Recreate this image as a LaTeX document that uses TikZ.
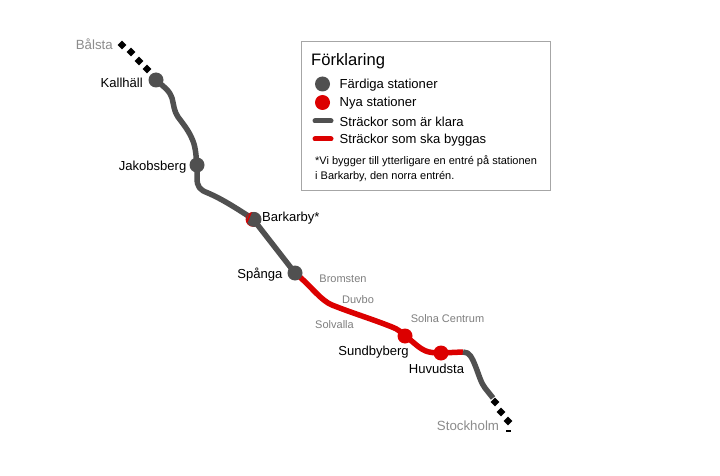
\documentclass[tikz,border=0pt]{standalone}
\usepackage{fontspec}
\setmainfont{Liberation Sans}
\usetikzlibrary{shapes.geometric}
\definecolor{linegray}{HTML}{505050}
\definecolor{linered}{HTML}{DC0000}
\definecolor{boxgray}{HTML}{A6A6A6}
\definecolor{labgray}{HTML}{7F7F7F}
\definecolor{fargray}{HTML}{8C8C8C}
\newcommand{\fs}[1]{\fontsize{#1}{#1}\selectfont}
\tikzset{
  x=1pt,y=-1pt,
  track/.style={line width=5.5pt,line join=round},
  doneline/.style={track,draw=linegray},
  newline/.style={track,draw=linered},
  donest/.style={circle,fill=linegray,minimum size=15pt,inner sep=0pt},
  newst/.style={circle,fill=linered,minimum size=15pt,inner sep=0pt},
  dot/.style={diamond,fill=black,minimum size=9pt,inner sep=0pt},
  lab/.style={inner sep=0pt,text=black,font=\fs{13.05}},
  farlab/.style={inner sep=0pt,text=fargray,font=\fs{13.3}},
  sublab/.style={inner sep=0pt,text=labgray,font=\fs{11}},
  legtxt/.style={inner sep=0pt,anchor=west,text=black,font=\fs{13.05}},
  legline/.style={line width=5pt,line cap=round},
}
\begin{document}
\begin{tikzpicture}
\useasboundingbox (0,0) rectangle (720,476);
\fill[white] (0,0) rectangle (720,476);
% legend box
\node[draw=boxgray,line width=0.9pt,minimum width=249pt,minimum height=149pt,inner sep=0pt] (legend) at (425.5,115.5) {};
% stations
\coordinate (sKal) at (156,80);
\coordinate (sJak) at (197,165);
\coordinate (sBar) at (253,219);
\coordinate (sSpa) at (295,273);
\coordinate (sSun) at (405,336);
\coordinate (sHuv) at (441,353);
\coordinate (tEnd) at (493,398);
\coordinate (rEnd) at (463,352);
% track
\draw[doneline] (sKal) .. controls (164,87) and (170,91) .. (172,98)
  .. controls (174,106) and (174,111) .. (178,117)
  .. controls (184,125) and (189,131) .. (193,141)
  .. controls (196,149) and (196,157) .. (sJak)
  -- (197,178) .. controls (197,187) and (200,190) .. (208,193)
  .. controls (222,199) and (236,208) .. (sBar) -- (sSpa);
\draw[newline] (sSpa) -- (301,278) .. controls (312,288) and (322,301) .. (332,305)
  .. controls (352,313) and (372,319) .. (392,327)
  .. controls (398,329) and (402,333) .. (sSun)
  .. controls (414,342) and (420,350) .. (429,352) .. controls (434,353) and (438,353) .. (sHuv) -- (rEnd);
\draw[doneline] (rEnd) .. controls (470,352) and (472,358) .. (475,365)
  .. controls (479,375) and (481,383) .. (485,388) -- (tEnd);
% station dots
\fill[linered] (253,219.4) circle (7.4pt);
\node[donest] (nKal) at (sKal) {};
\node[donest] (nJak) at (sJak) {};
\node[donest] (nBar) at (254,219.4) {};
\node[donest] (nSpa) at (sSpa) {};
\node[newst] (nSun) at (sSun) {};
\node[newst] (nHuv) at (sHuv) {};
\fill[linered] (246.3,221.5) -- (249.5,213.8) -- (252,212.2) -- (247.5,222.5) -- cycle;
% diamonds
\node[dot] (d1) at (122,45) {};
\node[dot] (d2) at (131,52) {};
\node[dot] (d3) at (139,61) {};
\node[dot] (d4) at (147,69) {};
\node[dot] (d5) at (495,402) {};
\node[dot] (d6) at (501,412) {};
\node[dot] (d7) at (508,421) {};
\node[fill=black,minimum width=5pt,minimum height=1.8pt,inner sep=0pt] (d8) at (508,431) {};
% labels
\node[farlab,anchor=east] (tBal) at (113,44) {Bålsta};
\node[lab,anchor=east] (tKal) at (143,83) {Kallhäll};
\node[lab,anchor=east] (tJak) at (186.5,167) {Jakobsberg};
\node[lab,anchor=west] (tBar) at (262,218) {Barkarby*};
\node[lab,anchor=east] (tSpa) at (282.5,274.5) {Spånga};
\node[sublab] (tBro) at (343,279) {Bromsten};
\node[sublab] (tDuv) at (358,300) {Duvbo};
\node[sublab] (tSol) at (334.5,325) {Solvalla};
\node[sublab] (tSC) at (447.5,318.5) {Solna Centrum};
\node[lab] (tSun) at (373.5,352) {Sundbyberg};
\node[lab] (tHuv) at (436.5,369) {Huvudsta};
\node[farlab] (tSto) at (468,426) {Stockholm};
% legend
\node[inner sep=0pt,anchor=west,font=\fs{16.6}] (lT) at (311,61) {Förklaring};
\node[donest] (l1) at (322.5,84) {};
\node[newst] (l2) at (322.5,102.5) {};
\coordinate (l3a) at (315,121);
\coordinate (l3b) at (331,121);
\coordinate (l4a) at (315,139);
\coordinate (l4b) at (331,139);
\draw[legline,linegray] (l3a) -- (l3b);
\draw[legline,linered] (l4a) -- (l4b);
\node[legtxt] (t1) at (339.5,85.5) {Färdiga stationer};
\node[legtxt] (t2) at (339.5,103.5) {Nya stationer};
\node[legtxt] (t3) at (339.5,122) {Sträckor som är klara};
\node[legtxt] (t4) at (339.5,140.5) {Sträckor som ska byggas};
\node[legtxt,font=\fs{11}] (t5) at (315,161.5) {*Vi bygger till ytterligare en entré på stationen};
\node[legtxt,font=\fs{11}] (t6) at (315,176.5) {i Barkarby, den norra entrén.};
\end{tikzpicture}
\end{document}
